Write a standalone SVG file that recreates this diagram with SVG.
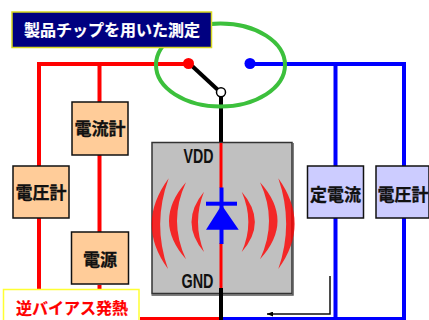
<svg xmlns="http://www.w3.org/2000/svg" width="429" height="320" viewBox="0 0 429 320">
<style>
text{font-family:"Noto Sans CJK JP","Liberation Sans",sans-serif;font-weight:700;text-anchor:middle}
.box{stroke:#111;stroke-width:1.5}
.lbl{font-size:17px;fill:#111;stroke:#111;stroke-width:.3}
.pin{font-family:"Liberation Sans",sans-serif;fill:#111;font-size:21px}
.wave{fill:#f00;fill-opacity:.8}
.r{stroke:#f00;stroke-width:4;fill:none}
.b{stroke:#00f;stroke-width:4;fill:none}
.k{stroke:#000;stroke-width:4;fill:none}
</style>
<defs><marker id="ah" markerUnits="userSpaceOnUse" markerWidth="6" markerHeight="5" refX="6" refY="2.500" orient="auto"><path d="M0 0L6 2.500L0 5Z" fill="#000"/></marker></defs>
<rect width="429" height="320" fill="#fff"/>
<g id="connectors">
<path class="r" d="M188 64H39V320"/>
<path class="r" d="M99.500 64V102"/>
<path class="r" d="M99.500 155V232"/>
<path class="r" d="M99.500 285V300"/>
<path class="r" d="M140 319H219"/>
<path class="b" d="M250 64H404V319H222"/>
<path class="b" d="M335.500 64V319"/>
<path class="k" d="M191 65L218 90"/>
<path class="k" d="M221 97V143"/>
<circle cx="188.500" cy="63.500" r="5.500" fill="#f00"/>
<circle cx="250" cy="63.500" r="5.500" fill="#00f"/>
<circle cx="221" cy="92.300" r="4.500" fill="#fff" stroke="#000" stroke-width="1.500"/>
</g>
<g id="chip">
<rect x="152" y="142.500" width="140" height="151" fill="#c0c0c0" stroke="#333" stroke-width="1.500"/>
<path d="M151.500 295H293V143" fill="none" stroke="#555" stroke-width="1.500"/>
<path class="r" d="M221 143V188M221 243V288" style="stroke-width:3"/>
<path class="b" d="M221.500 187.500V244"/>
<path d="M206 203.700H237" stroke="#00f" stroke-width="4"/>
<path d="M221.700 205L238.700 229.700H206Z" fill="#00f"/>
<path class="wave" d="M168.700 178.300Q135 224 168 269Q152 224 168.700 178.300Z"/>
<path class="wave" d="M186 182.300Q152 221 186 259.300Q168 221 186 182.300Z"/>
<path class="wave" d="M204 191.700Q179 222 204 252Q192 222 204 191.700Z"/>
<path class="wave" d="M241.700 191.700Q268 222 241.700 252Q255 222 241.700 191.700Z"/>
<path class="wave" d="M260 182.300Q295 221 260 259.300Q278 221 260 182.300Z"/>
<path class="wave" d="M278.300 178.300Q311 224 278.300 269Q294 224 278.300 178.300Z"/>
<text class="pin" x="198.500" y="163.300" textLength="30" lengthAdjust="spacingAndGlyphs">VDD</text>
<text class="pin" x="197.500" y="287.700" textLength="32" lengthAdjust="spacingAndGlyphs">GND</text>
</g>
<path id="lead-bottom" class="k" d="M221 288V320"/>
<path id="flow" d="M330 276V314H267" fill="none" stroke="#111" stroke-width="1.500" marker-end="url(#ah)"/>
<g id="ammeter"><rect class="box" x="72" y="102" width="56" height="53" fill="#ffcc99"/><text class="lbl" x="100" y="135">電流計</text></g>
<g id="voltmeter-left"><rect class="box" x="13" y="166" width="56" height="52" fill="#ffcc99"/><text class="lbl" x="41" y="199">電圧計</text></g>
<g id="power"><rect class="box" x="71.500" y="232" width="57" height="52" fill="#ffcc99"/><text class="lbl" x="100" y="266">電源</text></g>
<g id="current-source"><rect class="box" x="307.500" y="166" width="56" height="52" fill="#ccccff"/><text class="lbl" x="335.500" y="201">定電流</text></g>
<g id="voltmeter-right"><rect class="box" x="376" y="166" width="53" height="52" fill="#ccccff"/><text class="lbl" x="403" y="201">電圧計</text></g>
<ellipse id="highlight" cx="220.500" cy="65" rx="64.500" ry="41.500" fill="none" stroke="#3cc03c" stroke-width="4"/>
<g id="title"><rect x="12" y="12" width="199.500" height="35.500" fill="#000080" stroke="#d8d820" stroke-width="1.500"/><text x="112" y="36" font-size="16" fill="#fff" stroke="#fff" stroke-width=".2">製品チップを用いた測定</text></g>
<g id="note"><rect x="3.500" y="289.500" width="135.500" height="32" fill="#fff" stroke="#ffff33" stroke-width="1.500"/><text x="72" y="314" font-size="16" fill="#f00" stroke="#f00" stroke-width=".2">逆バイアス発熱</text></g>
</svg>
